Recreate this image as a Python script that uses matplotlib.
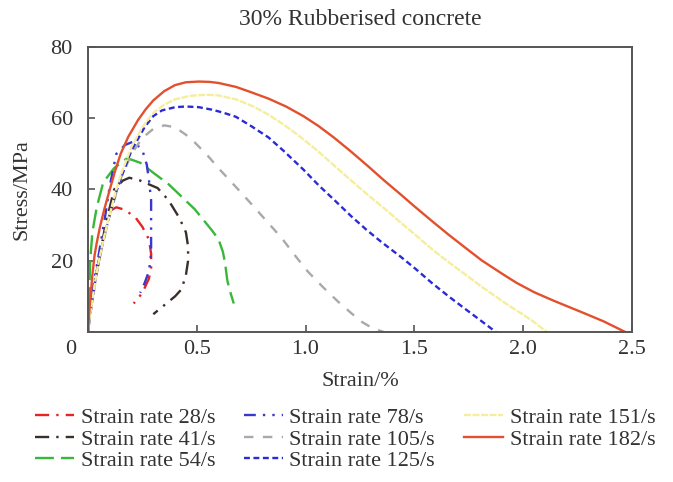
import numpy as np
import matplotlib
matplotlib.use("Agg")
import matplotlib.pyplot as plt
import matplotlib.transforms as mtransforms

plt.rcParams['font.family'] = ['Liberation Serif', 'DejaVu Serif']
plt.rcParams['font.size'] = 16

# stress-strain curves, strain in %, stress in MPa
x28 = [0, 0.01, 0.03, 0.05, 0.08, 0.10, 0.13, 0.17, 0.22, 0.25, 0.28, 0.29, 0.29, 0.28, 0.25, 0.21]
y28 = [0, 6, 14, 20, 29, 34, 35, 34.3, 32, 29.5, 26, 22, 18, 15, 11, 8]

x41 = [0, 0.01, 0.03, 0.05, 0.08, 0.12, 0.16, 0.19, 0.24, 0.32, 0.37, 0.42, 0.45, 0.46, 0.46,
       0.45, 0.43, 0.40, 0.37, 0.33, 0.30]
y41 = [0, 6, 14, 20, 30, 40, 42.5, 43.3, 42.5, 40.4, 37, 32, 28, 24, 20, 16, 12, 10, 8.5, 6.5, 5]

x54 = [0, 0.005, 0.01, 0.02, 0.04, 0.07, 0.12, 0.18, 0.24, 0.30, 0.37, 0.43, 0.49, 0.53, 0.57,
       0.60, 0.62, 0.63, 0.64, 0.65, 0.67]
y54 = [0, 10, 20, 28, 35, 42, 46, 48.8, 47.5, 44.7, 41.5, 38, 34.5, 31.5, 28.5, 26, 22.5, 19.4,
       14.6, 12, 8]

x78 = [0, 0.01, 0.03, 0.05, 0.08, 0.10, 0.13, 0.17, 0.21, 0.25, 0.27, 0.28, 0.29, 0.29, 0.29,
       0.28, 0.26, 0.24]
y78 = [0, 7, 15, 22, 33, 41, 50, 52.5, 53.5, 51, 47, 42.7, 37, 32, 22, 17, 13.7, 11]

x105 = [0, 0.02, 0.05, 0.1, 0.15, 0.2, 0.25, 0.3, 0.35, 0.4, 0.47, 0.55, 0.61, 0.68, 0.75, 0.82,
        0.89, 0.95, 1.01, 1.08, 1.15, 1.21, 1.26, 1.31, 1.36]
y105 = [0, 9, 20, 33, 43, 50, 54.5, 57, 58, 57.5, 54.5, 49.5, 45.3, 40.7, 36, 31.2, 26.4, 21.6,
        17, 12.6, 8.5, 5.3, 2.8, 1, 0]

x125 = [0, 0.01, 0.02, 0.035, 0.05, 0.075, 0.1, 0.125, 0.15, 0.2, 0.26, 0.30, 0.34, 0.40, 0.45,
        0.51, 0.57, 0.62, 0.68, 0.75, 0.83, 0.90, 0.99, 1.06, 1.14, 1.21, 1.28, 1.35, 1.44, 1.51,
        1.58, 1.66, 1.74, 1.81, 1.875]
y125 = [0, 5, 9, 15, 20, 27, 33, 38.5, 43, 51, 57.5, 60.6, 62.2, 63.1, 63.3, 63.1, 62.4, 61.6,
        60.4, 57.8, 54.6, 50.8, 45.6, 41.2, 36.6, 32.5, 28.7, 25.2, 21, 17.5, 13.8, 9.9, 6.2, 3, 0]

x151 = [0, 0.01, 0.02, 0.035, 0.05, 0.075, 0.1, 0.125, 0.15, 0.2, 0.25, 0.3, 0.35, 0.4, 0.47,
        0.55, 0.6, 0.68, 0.76, 0.83, 0.9, 0.98, 1.06, 1.13, 1.21, 1.29, 1.37, 1.44, 1.51, 1.58,
        1.66, 1.74, 1.81, 1.88, 1.95, 2.0, 2.05, 2.11]
y151 = [0, 5, 9, 15, 20, 27, 33, 39, 44, 52, 57.5, 61.5, 63.8, 65.3, 66.3, 66.6, 66.4, 65.3,
        63.3, 61, 58.2, 54.6, 50.6, 46.8, 42.5, 38.3, 34.3, 30.6, 27, 23.3, 19.5, 15.9, 12.7,
        9.7, 6.8, 4.9, 2.8, 0]

x182 = [0, 0.005, 0.01, 0.02, 0.03, 0.04, 0.055, 0.075, 0.10, 0.125, 0.15, 0.185, 0.23, 0.265,
        0.30, 0.35, 0.40, 0.45, 0.51, 0.56, 0.60, 0.68, 0.75, 0.83, 0.91, 0.99, 1.06, 1.13, 1.21,
        1.29, 1.36, 1.43, 1.50, 1.58, 1.66, 1.74, 1.81, 1.90, 1.97, 2.05, 2.14, 2.20, 2.28, 2.37,
        2.47]
y182 = [0, 5, 9, 16, 21.5, 25, 29.5, 34.5, 40, 45.3, 50, 54.8, 59.5, 62.5, 65, 67.6, 69.3, 70.1,
        70.3, 70.2, 69.9, 68.8, 67.3, 65.5, 63.3, 60.6, 57.8, 54.6, 50.6, 46.4, 42.6, 39, 35.3,
        31.2, 27.2, 23.4, 20.1, 16.5, 13.8, 11.2, 8.8, 7.3, 5.3, 3.0, 0]

labels = ['Strain rate 28/s', 'Strain rate 41/s', 'Strain rate 54/s', 'Strain rate 78/s',
          'Strain rate 105/s', 'Strain rate 125/s', 'Strain rate 151/s', 'Strain rate 182/s']
xtick_vals = [0, 0.5, 1.0, 1.5, 2.0, 2.5]
xtick_text = ['0', '0.5', '1.0', '1.5', '2.0', '2.5']
ytick_vals = [20, 40, 60, 80]

series = [
    (x28, y28, '#e52424', (0, (6, 3, 1, 3))),
    (x41, y41, '#3b2f2a', (0, (6, 3, 1, 3))),
    (x54, y54, '#38b838', (0, (8, 3))),
    (x78, y78, '#3b36cc', (0, (5, 3, 1, 3, 1, 3))),
    (x105, y105, '#a9a9a9', (0, (4, 4))),
    (x125, y125, '#2a2ad6', (0, (2.5, 1.5))),
    (x151, y151, '#f6ee9c', (0, (3, 0.6))),
    (x182, y182, '#e2502e', '-'),
]

fig = plt.figure(figsize=(6.73, 4.82), dpi=100)
ax = fig.add_axes([0.1308, 0.3112, 0.808, 0.5913])

for (xs, ys, col, ls), lab in zip(series, labels):
    ax.plot(xs, ys, color=col, linestyle=ls, linewidth=1.7, label=lab,
            solid_joinstyle='round')

ax.set_xlim(0, 2.5)
ax.set_ylim(0, 80)
ax.set_xticks(xtick_vals)
ax.set_xticklabels(xtick_text)
ax.set_yticks(ytick_vals)
ax.tick_params(direction='in', length=5, width=1.2, colors='#555555',
               labelcolor='#333333', labelsize=16)
ax.tick_params(axis='x', pad=6)
ax.tick_params(axis='y', pad=11)
for sp in ax.spines.values():
    sp.set_color('#555555')
    sp.set_linewidth(1.4)

# origin label sits in the corner, left of the axis
first = ax.get_xticklabels()[0]
first.set_transform(first.get_transform() +
                    mtransforms.ScaledTranslation(-17 / 100, 0, fig.dpi_scale_trans))

ax.set_xlabel('Strain/%', fontsize=16, color='#333333', labelpad=9)
ax.set_ylabel('Stress/MPa', fontsize=16, color='#333333', labelpad=14)
ax.set_title('30% Rubberised concrete', fontsize=17, color='#333333', pad=16)

fig.legend(loc='upper left', bbox_to_anchor=(0.052, 0.155), ncol=3, frameon=False,
           fontsize=16, handlelength=1.75, handletextpad=0.3, columnspacing=1.3,
           labelspacing=0.05, borderpad=0, borderaxespad=0, labelcolor='#333333')

fig.savefig('out.png', dpi=100)
